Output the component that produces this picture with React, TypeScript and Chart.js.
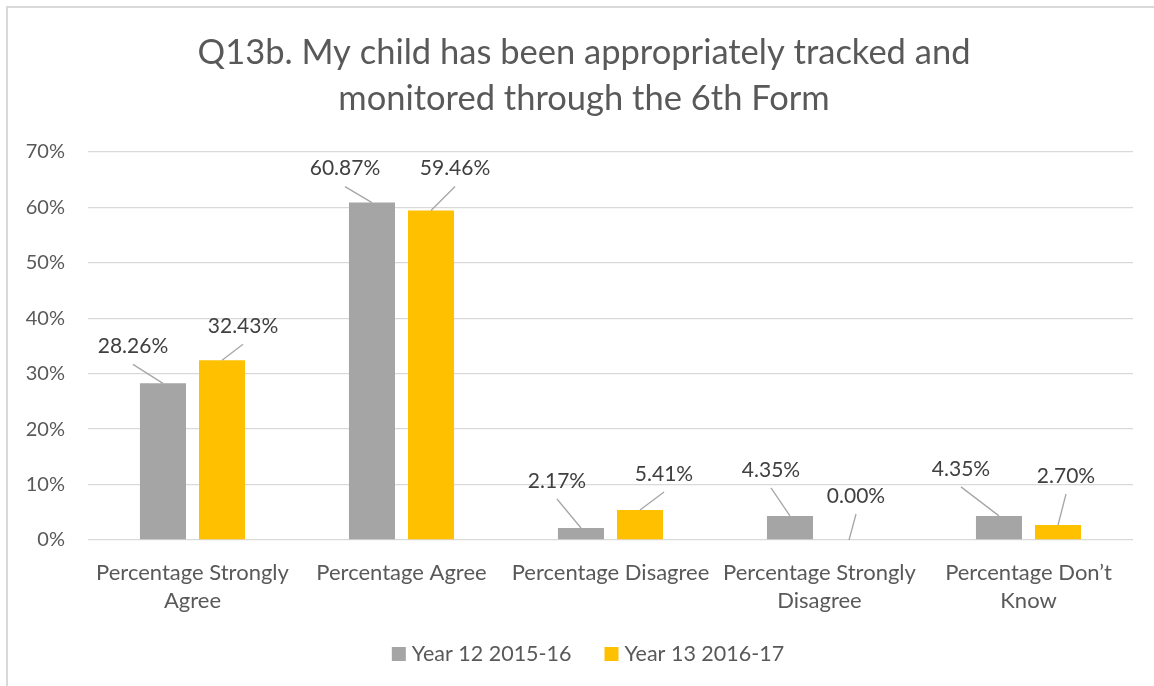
import React, { useEffect, useRef } from "react";
import { Chart, registerables } from "chart.js";

Chart.register(...registerables);

const titleLines = ["Q13b. My child has been appropriately tracked and", "monitored through the 6th Form"];
const categories: (string | string[])[] = [
  ["Percentage Strongly", "Agree"],
  "Percentage Agree",
  "Percentage Disagree",
  ["Percentage Strongly", "Disagree"],
  ["Percentage Don’t", "Know"],
];
const seriesNames = ["Year 12 2015-16", "Year 13 2016-17"];
const seriesColors = ["#A5A5A5", "#FFC000"];
const year12Values = [28.26, 60.87, 2.17, 4.35, 4.35];
const year13Values = [32.43, 59.46, 5.41, 0.0, 2.7];
const yMin = 0;
const yMax = 70;
const yStep = 10;

// label placement (offset of label centre from bar top centre)
const year12LabelOffsets = [[-30, -37], [-27, -34], [-24, -47], [-19, -46], [-38, -47]];
const year13LabelOffsets = [[21, -34], [24, -42], [24, -36], [7, -44], [8, -49]];

const FONT = "Lato";
// the original chart frame is wider than the visible picture; its centre line
const FRAME_CENTER_X = 586;

const leaderLabelPlugin = {
  id: "leaderLabels",
  afterDatasetsDraw(chart: any) {
    const ctx = chart.ctx;
    chart.data.datasets.forEach((ds: any, di: number) => {
      const meta = chart.getDatasetMeta(di);
      meta.data.forEach((bar: any, i: number) => {
        const { x, y } = bar.getProps(["x", "y"], true);
        const [dx, dy] = ds.labelOffsets[i];
        const lx = x + dx;
        const ly = y + dy;
        ctx.save();
        ctx.strokeStyle = "#A6A6A6";
        ctx.lineWidth = 1.3;
        ctx.beginPath();
        ctx.moveTo(lx, ly + 18);
        ctx.lineTo(x, y);
        ctx.stroke();
        ctx.fillStyle = "#404040";
        ctx.font = `21px ${FONT}`;
        ctx.textAlign = "center";
        ctx.textBaseline = "middle";
        ctx.fillText(Number(ds.data[i]).toFixed(2) + "%", lx, ly);
        ctx.restore();
      });
    });
  },
};

const titleLegendPlugin = {
  id: "titleLegend",
  afterDraw(chart: any) {
    const ctx = chart.ctx;
    ctx.save();
    // title
    ctx.fillStyle = "#595959";
    ctx.font = `34.5px ${FONT}`;
    ctx.textAlign = "center";
    ctx.textBaseline = "middle";
    titleLines.forEach((line, i) => {
      ctx.fillText(line, FRAME_CENTER_X - 2, 53 + i * 46);
    });
    // legend
    ctx.font = `21.5px ${FONT}`;
    ctx.textAlign = "left";
    const box = 14;
    const boxGap = 6;
    const itemGap = 33;
    const widths = chart.data.datasets.map((ds: any) => box + boxGap + ctx.measureText(ds.label).width);
    const total = widths.reduce((a: number, b: number) => a + b, 0) + itemGap * (widths.length - 1);
    let x = FRAME_CENTER_X + 2 - total / 2;
    const cy = chart.chartArea.bottom + 114;
    chart.data.datasets.forEach((ds: any, i: number) => {
      ctx.fillStyle = ds.backgroundColor;
      ctx.fillRect(x, cy - box / 2, box, box);
      ctx.fillStyle = "#595959";
      ctx.fillText(ds.label, x + box + boxGap, cy);
      x += widths[i] + itemGap;
    });
    ctx.restore();
  },
};

export default function App() {
  const canvasRef = useRef<HTMLCanvasElement | null>(null);

  useEffect(() => {
    if (!canvasRef.current) return;
    const chart = new Chart(canvasRef.current, {
      type: "bar",
      data: {
        labels: categories as any,
        datasets: [
          {
            label: seriesNames[0],
            data: year12Values,
            backgroundColor: seriesColors[0],
            categoryPercentage: 0.565,
            barPercentage: 0.78,
            labelOffsets: year12LabelOffsets,
          } as any,
          {
            label: seriesNames[1],
            data: year13Values,
            backgroundColor: seriesColors[1],
            categoryPercentage: 0.565,
            barPercentage: 0.78,
            labelOffsets: year13LabelOffsets,
          } as any,
        ],
      },
      options: {
        animation: false,
        responsive: false,
        maintainAspectRatio: false,
        layout: { padding: { top: 152, left: 0, right: 21, bottom: 72 } },
        plugins: {
          title: { display: false },
          legend: { display: false },
          tooltip: { enabled: false },
        },
        scales: {
          x: {
            grid: { display: false, drawTicks: false },
            border: { display: false },
            ticks: {
              color: "#595959",
              font: { family: FONT, size: 22, lineHeight: 28 / 22 },
              padding: 19,
              autoSkip: false,
              maxRotation: 0,
              minRotation: 0,
            },
            afterFit: (s: any) => {
              s.height = 74;
            },
          },
          y: {
            min: yMin,
            max: yMax,
            grid: { color: "#D9D9D9", lineWidth: 1.3, drawTicks: false },
            border: { display: false },
            ticks: {
              stepSize: yStep,
              color: "#595959",
              font: { family: FONT, size: 20 },
              padding: 23,
              callback: (v: any) => `${v}%`,
            },
            afterFit: (s: any) => {
              s.width = 88;
            },
          },
        },
      },
      plugins: [leaderLabelPlugin, titleLegendPlugin],
    });
    return () => chart.destroy();
  }, []);

  return (
    <div
      style={{
        position: "fixed",
        left: 0,
        top: 0,
        width: 1154,
        height: 686,
        overflow: "hidden",
        background: "#ffffff",
      }}
    >
      <div
        style={{
          position: "absolute",
          left: 6,
          top: 6,
          width: 1200,
          height: 720,
          border: "2px solid #D9D9D9",
          boxSizing: "border-box",
        }}
      />
      <canvas
        ref={canvasRef}
        width={1154}
        height={686}
        style={{ position: "absolute", left: 0, top: 0, width: 1154, height: 686 }}
      />
    </div>
  );
}
